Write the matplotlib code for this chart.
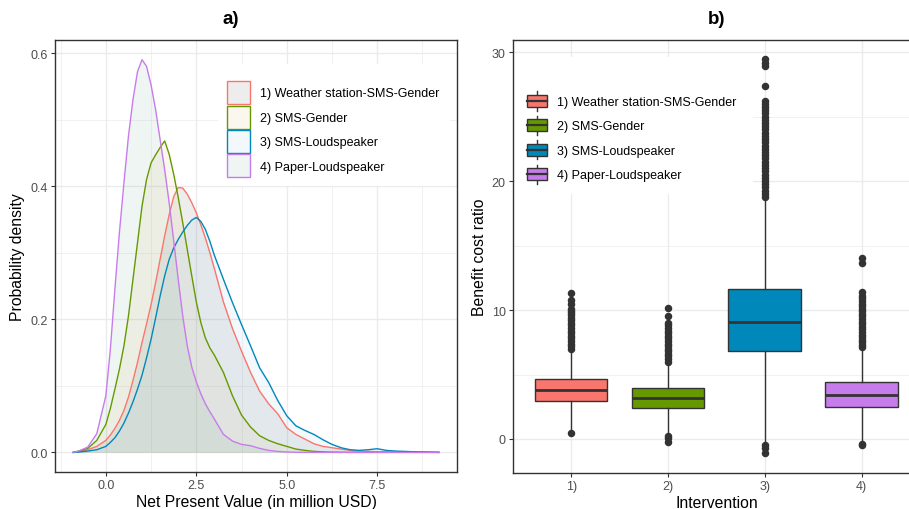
import matplotlib
matplotlib.use("Agg")
import matplotlib.pyplot as plt
from matplotlib.patches import Patch, Rectangle
from matplotlib.lines import Line2D
from matplotlib.legend_handler import HandlerBase
from matplotlib.colors import to_rgba

plt.rcParams['font.family'] = ['Liberation Sans', 'DejaVu Sans']

# --- data ---
labels = ['1) Weather station-SMS-Gender', '2) SMS-Gender', '3) SMS-Loudspeaker', '4) Paper-Loudspeaker']
short_labels = ['1)', '2)', '3)', '4)']
line_colors = ['#F8766D', '#669900', '#0088BB', '#C77CEC']
fill_colors = ['#555555', '#E1B969', '#87C3E1', '#69A587']

# density of net present value (million USD)
npv_x = [-0.9, -0.75, -0.5, -0.25, 0.0,
         0.125, 0.25, 0.375, 0.5, 0.625, 0.75, 0.875, 1.0, 1.125, 1.25, 1.375, 1.5,
         1.625, 1.75, 1.875, 2.0, 2.125, 2.25, 2.375, 2.5, 2.625, 2.75, 2.875, 3.0,
         3.25, 3.5, 3.75, 4.0, 4.25, 4.5, 4.75, 5.0, 5.25, 5.5, 5.75, 6.0, 6.25, 6.5,
         6.75, 7.0, 7.25, 7.5, 7.75, 8.0, 8.5, 9.0, 9.2]
dens_1 = [0, 0.001, 0.004, 0.009, 0.018,
          0.026, 0.036, 0.048, 0.063, 0.083, 0.108, 0.135, 0.165, 0.193, 0.222, 0.255, 0.29,
          0.325, 0.357, 0.384, 0.398, 0.397, 0.388, 0.375, 0.36, 0.342, 0.322, 0.3, 0.276,
          0.226, 0.186, 0.152, 0.12, 0.092, 0.073, 0.058, 0.037, 0.027, 0.02, 0.013, 0.009, 0.007, 0.005,
          0.003, 0.002, 0.0015, 0.001, 0.0008, 0.0005, 0.0003, 0.0001, 0]
dens_2 = [0, 0.002, 0.006, 0.018, 0.042,
          0.066, 0.095, 0.125, 0.16, 0.205, 0.26, 0.315, 0.37, 0.41, 0.435, 0.447, 0.458,
          0.468, 0.448, 0.418, 0.383, 0.345, 0.305, 0.265, 0.226, 0.195, 0.172, 0.157, 0.146,
          0.12, 0.085, 0.056, 0.038, 0.025, 0.018, 0.013, 0.009, 0.005, 0.003, 0.0015, 0.0008, 0.0004, 0.0002,
          0, 0, 0, 0, 0, 0, 0, 0, 0]
dens_3 = [0, 0.0005, 0.002, 0.004, 0.009,
          0.015, 0.022, 0.032, 0.044, 0.059, 0.076, 0.095, 0.116, 0.142, 0.17, 0.202, 0.235,
          0.265, 0.29, 0.307, 0.32, 0.331, 0.341, 0.349, 0.353, 0.347, 0.335, 0.317, 0.296,
          0.26, 0.225, 0.192, 0.16, 0.127, 0.105, 0.078, 0.055, 0.04, 0.033, 0.027, 0.019, 0.012, 0.007,
          0.004, 0.003, 0.004, 0.0055, 0.003, 0.002, 0.001, 0.0003, 0]
dens_4 = [0, 0.002, 0.008, 0.028, 0.085,
          0.155, 0.245, 0.33, 0.405, 0.475, 0.53, 0.572, 0.59, 0.58, 0.552, 0.515, 0.47,
          0.425, 0.375, 0.318, 0.26, 0.205, 0.16, 0.128, 0.106, 0.088, 0.073, 0.061, 0.05,
          0.027, 0.017, 0.012, 0.01, 0.006, 0.003, 0.0015, 0.0006, 0.0002, 0, 0, 0, 0, 0,
          0, 0, 0, 0, 0, 0, 0, 0, 0]
densities = [dens_1, dens_2, dens_3, dens_4]

# benefit cost ratio box statistics
bcr_q1 = [2.97, 2.40, 6.79, 2.50]
bcr_med = [3.80, 3.15, 9.04, 3.41]
bcr_q3 = [4.65, 3.93, 11.62, 4.39]
bcr_lo = [0.6, 0.35, -0.45, -0.25]
bcr_hi = [6.95, 5.9, 18.7, 7.05]
bcr_out_1 = [0.44, 7.0, 7.2, 7.4, 7.6, 7.8, 8.0, 8.2, 8.4, 8.6, 8.8, 9.0, 9.2, 9.4, 9.6, 9.8, 9.95,
             10.1, 10.45, 10.8, 11.35]
bcr_out_2 = [-0.2, 0.05, 0.25, 6.0, 6.2, 6.4, 6.6, 6.8, 7.0, 7.2, 7.4, 7.6, 7.8, 8.0, 8.2, 8.4,
             8.6, 8.8, 9.0, 9.55, 10.12]
bcr_out_3 = [-1.1, -0.7, -0.5, 18.8, 19.0, 19.25, 19.5, 19.75, 20.0, 20.25, 20.5, 20.75, 21.0,
             21.25, 21.5, 21.75, 22.0, 22.25, 22.5, 22.75, 23.0, 23.25, 23.5, 23.75, 24.0, 24.25,
             24.5, 24.75, 25.0, 25.25, 25.5, 25.75, 26.0, 26.2, 27.37, 28.92, 29.18, 29.43]
bcr_out_4 = [-0.5, -0.35, 7.1, 7.3, 7.5, 7.7, 7.9, 8.1, 8.3, 8.5, 8.7, 8.9, 9.1, 9.3, 9.5, 9.7,
             9.9, 10.1, 10.3, 10.5, 10.7, 10.9, 11.1, 11.36, 13.63, 14.07]
bcr_out = [bcr_out_1, bcr_out_2, bcr_out_3, bcr_out_4]

dark = '#333333'
grid_c = '#EBEBEB'


class BoxKeyHandler(HandlerBase):
    def create_artists(self, legend, orig_handle, xdescent, ydescent, width, height, fontsize, trans):
        x0, y0 = -xdescent, -ydescent
        fc = orig_handle.get_facecolor()
        w1 = Line2D([x0 + 0.5 * width] * 2, [y0 + 0.1 * height, y0 + 0.25 * height], color=dark, lw=1.0, transform=trans)
        w2 = Line2D([x0 + 0.5 * width] * 2, [y0 + 0.75 * height, y0 + 0.9 * height], color=dark, lw=1.0, transform=trans)
        box = Rectangle((x0 + 0.1 * width, y0 + 0.25 * height), 0.8 * width, 0.5 * height,
                        facecolor=fc, edgecolor=dark, lw=1.0, transform=trans)
        med = Line2D([x0 + 0.1 * width, x0 + 0.9 * width], [y0 + 0.5 * height] * 2, color=dark, lw=1.6, transform=trans)
        return [w1, w2, box, med]


def style_axes(ax):
    ax.set_axisbelow(True)
    for s in ax.spines.values():
        s.set_color(dark)
        s.set_linewidth(1.0)
    ax.grid(True, which='major', color=grid_c, lw=1.0)
    ax.grid(True, which='minor', color=grid_c, lw=0.5)
    ax.tick_params(which='major', direction='out', length=2.8, width=0.8, color=dark,
                   labelsize=9, labelcolor='#4D4D4D', pad=2.5)
    ax.tick_params(which='minor', length=0)


fig = plt.figure(figsize=(9.09, 5.10), dpi=100)

# ---- a) density plot ----
ax1 = fig.add_axes([0.0605, 0.0725, 0.4423, 0.847])
style_axes(ax1)
for i in range(4):
    ax1.fill_between(npv_x, densities[i], 0, color=fill_colors[i], alpha=0.1, lw=0, zorder=1)
    ax1.plot(npv_x, densities[i], color=line_colors[i], lw=1.0, zorder=2)
ax1.set_xlim(-1.405, 9.705)
ax1.set_ylim(-0.0295, 0.6195)
ax1.set_xticks([0, 2.5, 5, 7.5])
ax1.set_xticklabels(['0.0', '2.5', '5.0', '7.5'])
ax1.set_xticks([-1.25, 1.25, 3.75, 6.25, 8.75], minor=True)
ax1.set_yticks([0, 0.2, 0.4, 0.6])
ax1.set_yticklabels(['0.0', '0.2', '0.4', '0.6'])
ax1.set_yticks([0.1, 0.3, 0.5], minor=True)
ax1.set_xlabel('Net Present Value (in million USD)', fontsize=11.3, labelpad=2)
ax1.set_ylabel('Probability density', fontsize=11.3, labelpad=3.5)
ax1.add_patch(Rectangle((0.4055, 0.662), 0.577, 0.282, transform=ax1.transAxes,
                        facecolor='white', edgecolor='none', zorder=0.8))
h1 = [Patch(facecolor=to_rgba(fill_colors[i], 0.1), edgecolor=line_colors[i], lw=1.0) for i in range(4)]
ax1.legend(h1, labels, loc='upper left', bbox_to_anchor=(0.4279, 0.905), frameon=False,
           fontsize=9, borderpad=0, borderaxespad=0, handlelength=1.84, handleheight=2.45,
           handletextpad=0.8, labelspacing=0.12)

# ---- b) box plot ----
ax2 = fig.add_axes([0.5644, 0.0715, 0.4474, 0.848])
style_axes(ax2)
stats = []
for i in range(4):
    stats.append(dict(med=bcr_med[i], q1=bcr_q1[i], q3=bcr_q3[i], whislo=bcr_lo[i],
                      whishi=bcr_hi[i], fliers=bcr_out[i]))
bp = ax2.bxp(stats, positions=[1, 2, 3, 4], widths=0.75, patch_artist=True, showcaps=False,
             boxprops=dict(edgecolor=dark, lw=1.0),
             medianprops=dict(color=dark, lw=2.0),
             whiskerprops=dict(color=dark, lw=1.0),
             flierprops=dict(marker='o', markersize=4.4, markerfacecolor=dark, markeredgecolor=dark))
for patch, c in zip(bp['boxes'], line_colors):
    patch.set_facecolor(c)
ax2.set_xlim(0.4, 4.6)
ax2.set_ylim(-2.6, 30.93)
ax2.set_xticks([1, 2, 3, 4])
ax2.set_xticklabels(short_labels)
ax2.set_yticks([0, 10, 20, 30])
ax2.set_yticks([5, 15, 25], minor=True)
ax2.set_xlabel('Intervention', fontsize=11.3, labelpad=2)
ax2.set_ylabel('Benefit cost ratio', fontsize=11.3, labelpad=3.5)
ax2.add_patch(Rectangle((0.005, 0.643), 0.585, 0.317, transform=ax2.transAxes,
                        facecolor='white', edgecolor='none', zorder=0.8))
h2 = [Patch(facecolor=c) for c in line_colors]
ax2.legend(h2, labels, loc='upper left', bbox_to_anchor=(0.0275, 0.8867), frameon=False,
           fontsize=9, borderpad=0, borderaxespad=0, handlelength=2.0, handleheight=2.58,
           handletextpad=0.6, labelspacing=0.03, handler_map={Patch: BoxKeyHandler()})

fig.text(0.254, 0.961, 'a)', fontsize=13.5, fontweight='bold', ha='center', va='center')
fig.text(0.788, 0.961, 'b)', fontsize=13.5, fontweight='bold', ha='center', va='center')

fig.savefig('out.png', dpi=100)
